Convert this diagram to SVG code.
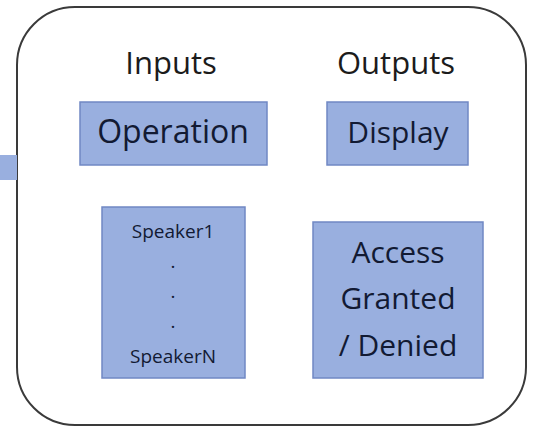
<svg xmlns="http://www.w3.org/2000/svg" width="533" height="428" viewBox="0 0 533 428">
  <style>
    .frame { fill: #ffffff; stroke: #3a3a3a; stroke-width: 2; }
    .box { fill: #99afdf; stroke: #7088c4; stroke-width: 1.5; }
    .head { font-family: "Open Sans", "Liberation Sans", sans-serif; font-size: 31px; fill: #1b1b1b; text-anchor: middle; }
    .lbl { font-family: "Open Sans", "Liberation Sans", sans-serif; font-size: 30px; fill: #121a33; text-anchor: middle; }
    .small { font-family: "Open Sans", "Liberation Sans", sans-serif; font-size: 19px; fill: #121a33; text-anchor: middle; }
  </style>

  <rect width="533" height="428" fill="#ffffff"/>

  <!-- outer system boundary -->
  <rect class="frame" x="17" y="7" width="509" height="418" rx="58" ry="58"/>

  <!-- incoming link from the left -->
  <g id="connectors">
    <rect x="0" y="155" width="17" height="25" fill="#99afdf"/>
  </g>

  <g id="inputs-title">
    <text class="head" x="171" y="74">Inputs</text>
  </g>
  <g id="outputs-title">
    <text class="head" x="396" y="74">Outputs</text>
  </g>

  <g id="operation">
    <rect class="box" x="80" y="102" width="187" height="63"/>
    <text class="lbl" x="173" y="143" style="font-size:32px">Operation</text>
  </g>

  <g id="display">
    <rect class="box" x="327" y="102" width="141" height="63"/>
    <text class="lbl" x="398" y="143">Display</text>
  </g>

  <g id="speakers">
    <rect class="box" x="102" y="207" width="143" height="171"/>
    <text class="small" x="173" y="238">Speaker1</text>
    <text class="small" x="173" y="268">.</text>
    <text class="small" x="173" y="298">.</text>
    <text class="small" x="173" y="328">.</text>
    <text class="small" x="173" y="363">SpeakerN</text>
  </g>

  <g id="access">
    <rect class="box" x="313" y="222" width="170" height="156"/>
    <text class="lbl" x="398" y="263">Access</text>
    <text class="lbl" x="398" y="309">Granted</text>
    <text class="lbl" x="398" y="356">/ Denied</text>
  </g>
</svg>
